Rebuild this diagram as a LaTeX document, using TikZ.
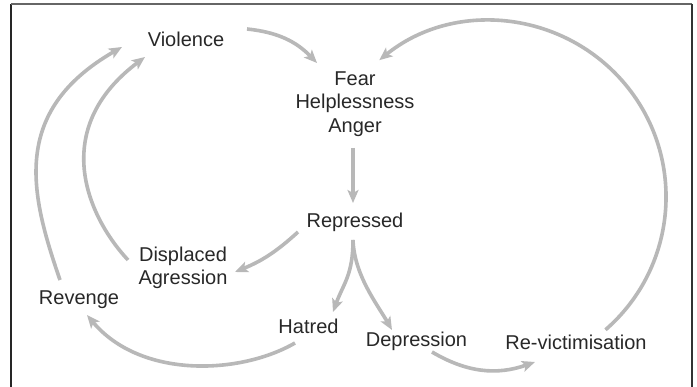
\documentclass[tikz,border=0pt]{standalone}
\usepackage{fontspec}
\setmainfont{Liberation Sans}
\usetikzlibrary{arrows.meta,calc}
\definecolor{arrgray}{RGB}{184,184,184}
\definecolor{txt}{RGB}{40,40,40}
\begin{document}
\begin{tikzpicture}[x=1pt,y=1pt,
  lbl/.style={inner sep=0pt,outer sep=0pt,text=txt,font=\fontsize{20}{23.5}\selectfont},
  multi/.style={lbl,align=center,anchor=north},
  single/.style={lbl,anchor=base},
  conn/.style={draw=arrgray,line width=3.6pt,
    -{Stealth[length=13pt,width=11pt,inset=3pt,fill=arrgray]}}]
\useasboundingbox (0,0) rectangle (697,387);
\fill[white] (0,0) rectangle (697,387);
% frame
\draw[line width=1.5pt,color=black!85] (11,0) -- (11,383);
\draw[line width=1.5pt,color=black!60] (11,383) -- (692,383);
\draw[line width=1.5pt,color=black!80] (692,383) -- (692,0);
% nodes
\node[single] (viol) at (186,340.5) {Violence};
\node[multi] (fear) at (355,315.5) {Fear\\Helplessness\\Anger};
\node[single] (rep) at (355,159.5) {Repressed};
\node[multi] (disp) at (183,140) {Displaced\\Agression};
\node[single] (rev) at (79,82) {Revenge};
\node[single] (hat) at (308.5,53) {Hatred};
\node[single] (dep) at (416.5,40) {Depression};
\node[single] (revic) at (576,37.5) {Re-victimisation};
% connectors
\draw[conn] ([shift={(61,17.5)}]viol.base) to[bend left=20] ([shift={(-38,8.5)}]fear.north);
\draw[conn] ([shift={(-2,-76.5)}]fear.north) -- ([shift={(-2,24.5)}]rep.base);
\draw[conn] ([shift={(-57,-4.5)}]rep.base) to[bend left=10] ([shift={(52,-25)}]disp.north);
\draw[conn] ([shift={(-2,-12.5)}]rep.base) to[out=-90,in=70,out distance=35pt,in distance=30pt] ([shift={(24.5,22)}]hat.base);
\draw[conn] ([shift={(-2,-12.5)}]rep.base) to[out=-88,in=120,out distance=35pt,in distance=30pt] ([shift={(-24.5,17)}]dep.base);
\draw[conn] ([shift={(-13.5,-9)}]hat.base) to[out=210,in=-50,out distance=64pt,in distance=83pt] ([shift={(8,-10)}]rev.base);
\draw[conn] ([shift={(-55,-13)}]disp.north) to[out=133,in=217,out distance=60pt,in distance=120pt] ([shift={(-41,-10.5)}]viol.base);
\draw[conn] ([shift={(-19,25)}]rev.base) to[out=109,in=210,out distance=90pt,in distance=130pt] ([shift={(-64,-0.5)}]viol.base);
\draw[conn] ([shift={(15.5,-5)}]dep.base) to[bend right=25] ([shift={(-41,-12.5)}]revic.base);
\draw[conn] ([shift={(29.5,19.7)}]revic.base) arc[start angle=-49,end angle=129,radius=176];
\end{tikzpicture}
\end{document}
